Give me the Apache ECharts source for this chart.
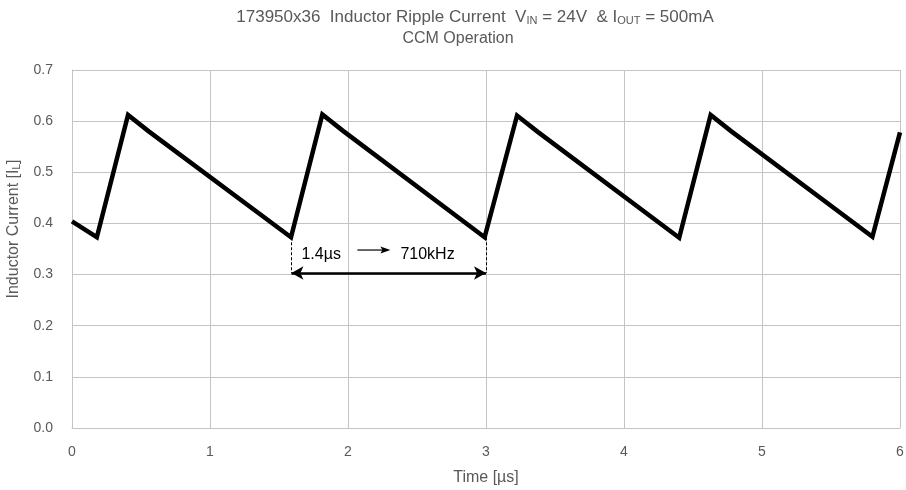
<!DOCTYPE html>
<html>
<head>
<meta charset="utf-8">
<script src="https://cdn.jsdelivr.net/npm/echarts@6/dist/echarts.min.js"></script>
<style>html,body{margin:0;padding:0;background:#fff;}#c{width:906px;height:490px;}</style>
</head>
<body>
<div id="c"></div>
<script>
// Time in microseconds
var times = [0, 0.18, 0.406, 0.556, 1.587, 1.814, 1.964, 2.99, 3.225, 3.375, 4.40, 4.628, 4.778, 5.80, 6.0];
// Inductor current in A
var currents = [0.404, 0.373, 0.612, 0.580, 0.373, 0.613, 0.581, 0.373, 0.611, 0.579, 0.372, 0.612, 0.580, 0.374, 0.578];
var xTicks = [0, 1, 2, 3, 4, 5, 6];
var yTicks = [0.0, 0.1, 0.2, 0.3, 0.4, 0.5, 0.6, 0.7];
// Period annotation (µs, A)
var periodStart = 1.59, periodEnd = 3.0, troughLevel = 0.373, arrowLevel = 0.303;
var periodLabel = '1.4µs', freqLabel = '710kHz';

var FONT = '"Liberation Sans", Arial, sans-serif';
var GREY = '#595959';
var chart = echarts.init(document.getElementById('c'), null, {renderer: 'canvas'});

var seriesData = times.map(function (t, i) { return [t, currents[i]]; });

chart.setOption({
  animation: false,
  grid: {left: 72, right: 6, top: 70, bottom: 62, containLabel: false, outerBoundsMode: 'none'},
  xAxis: {
    type: 'value', min: 0, max: 6, interval: 1,
    name: 'Time [µs]', nameLocation: 'middle', nameGap: 42,
    nameTextStyle: {fontFamily: FONT, fontSize: 16, color: GREY},
    axisLine: {show: true, lineStyle: {color: '#c4c4c4', width: 1}},
    axisTick: {show: false},
    axisLabel: {fontFamily: FONT, fontSize: 14, color: GREY, margin: 17,
      formatter: function (v) { return xTicks.indexOf(v) >= 0 ? String(v) : ''; }},
    splitLine: {show: true, lineStyle: {color: '#c4c4c4', width: 1}}
  },
  yAxis: {
    type: 'value', min: 0, max: 0.7, interval: 0.1,
    name: 'Inductor Current [I{sub|L}]', nameLocation: 'middle', nameGap: 42,
    nameTextStyle: {fontFamily: FONT, fontSize: 16, color: GREY, padding: [0, 0, 0, 40],
      rich: {sub: {fontFamily: FONT, fontSize: 10, color: GREY, verticalAlign: 'bottom', padding: [9, 0, 0, 0]}}},
    axisLine: {show: true, lineStyle: {color: '#c4c4c4', width: 1}},
    axisTick: {show: false},
    axisLabel: {fontFamily: FONT, fontSize: 14, color: GREY, margin: 19,
      formatter: function (v) { return v.toFixed(1); }},
    splitLine: {show: true, lineStyle: {color: '#c4c4c4', width: 1}}
  },
  series: [{
    type: 'line',
    data: seriesData,
    showSymbol: false,
    lineStyle: {color: '#000', width: 4.5, join: 'miter'},
    z: 5,
    markLine: {
      silent: true,
      animation: false,
      label: {show: false},
      data: [
        [{coord: [periodStart, troughLevel], symbol: 'none', lineStyle: {type: [3, 2], width: 1, color: '#000'}},
         {coord: [periodStart, arrowLevel], symbol: 'none'}],
        [{coord: [periodEnd, troughLevel], symbol: 'none', lineStyle: {type: [3, 2], width: 1, color: '#000'}},
         {coord: [periodEnd, arrowLevel], symbol: 'none'}],
        [{coord: [periodStart, arrowLevel], symbol: 'arrow', symbolSize: [10, 12], lineStyle: {type: 'solid', width: 2.5, color: '#000'}},
         {coord: [periodEnd, arrowLevel], symbol: 'arrow', symbolSize: [10, 12]}]
      ]
    }
  }]
});

function px(t, v) { return chart.convertToPixel({xAxisIndex: 0, yAxisIndex: 0}, [t, v]); }
var p1 = px(periodStart, arrowLevel);
var lblY = p1[1] - 18;

chart.setOption({
  graphic: [
    {type: 'text', x: 475, y: 17, silent: true,
      style: {text: '173950x36  Inductor Ripple Current  V{sub|IN} = 24V  & I{sub|OUT} = 500mA',
        font: '17px ' + FONT, fill: GREY, align: 'center', verticalAlign: 'middle',
        rich: {sub: {font: '11px ' + FONT, fill: GREY, padding: [8, 0, 0, 0]}}}},
    {type: 'text', x: 458, y: 39, silent: true,
      style: {text: 'CCM Operation', font: '16px ' + FONT, fill: GREY, align: 'center', verticalAlign: 'middle'}},
    {type: 'text', x: p1[0] + 10, y: lblY, silent: true,
      style: {text: periodLabel, font: '16px ' + FONT, fill: '#000', verticalAlign: 'middle'}},
    {type: 'line', silent: true,
      shape: {x1: p1[0] + 66, y1: lblY - 5, x2: p1[0] + 92, y2: lblY - 5},
      style: {stroke: '#000', lineWidth: 1.2}},
    {type: 'polygon', silent: true,
      shape: {points: [[p1[0] + 99, lblY - 5], [p1[0] + 89, lblY - 8.5], [p1[0] + 91, lblY - 5], [p1[0] + 89, lblY - 1.5]]},
      style: {fill: '#000'}},
    {type: 'text', x: p1[0] + 109, y: lblY, silent: true,
      style: {text: freqLabel, font: '16px ' + FONT, fill: '#000', verticalAlign: 'middle'}}
  ]
});
</script>
</body>
</html>
